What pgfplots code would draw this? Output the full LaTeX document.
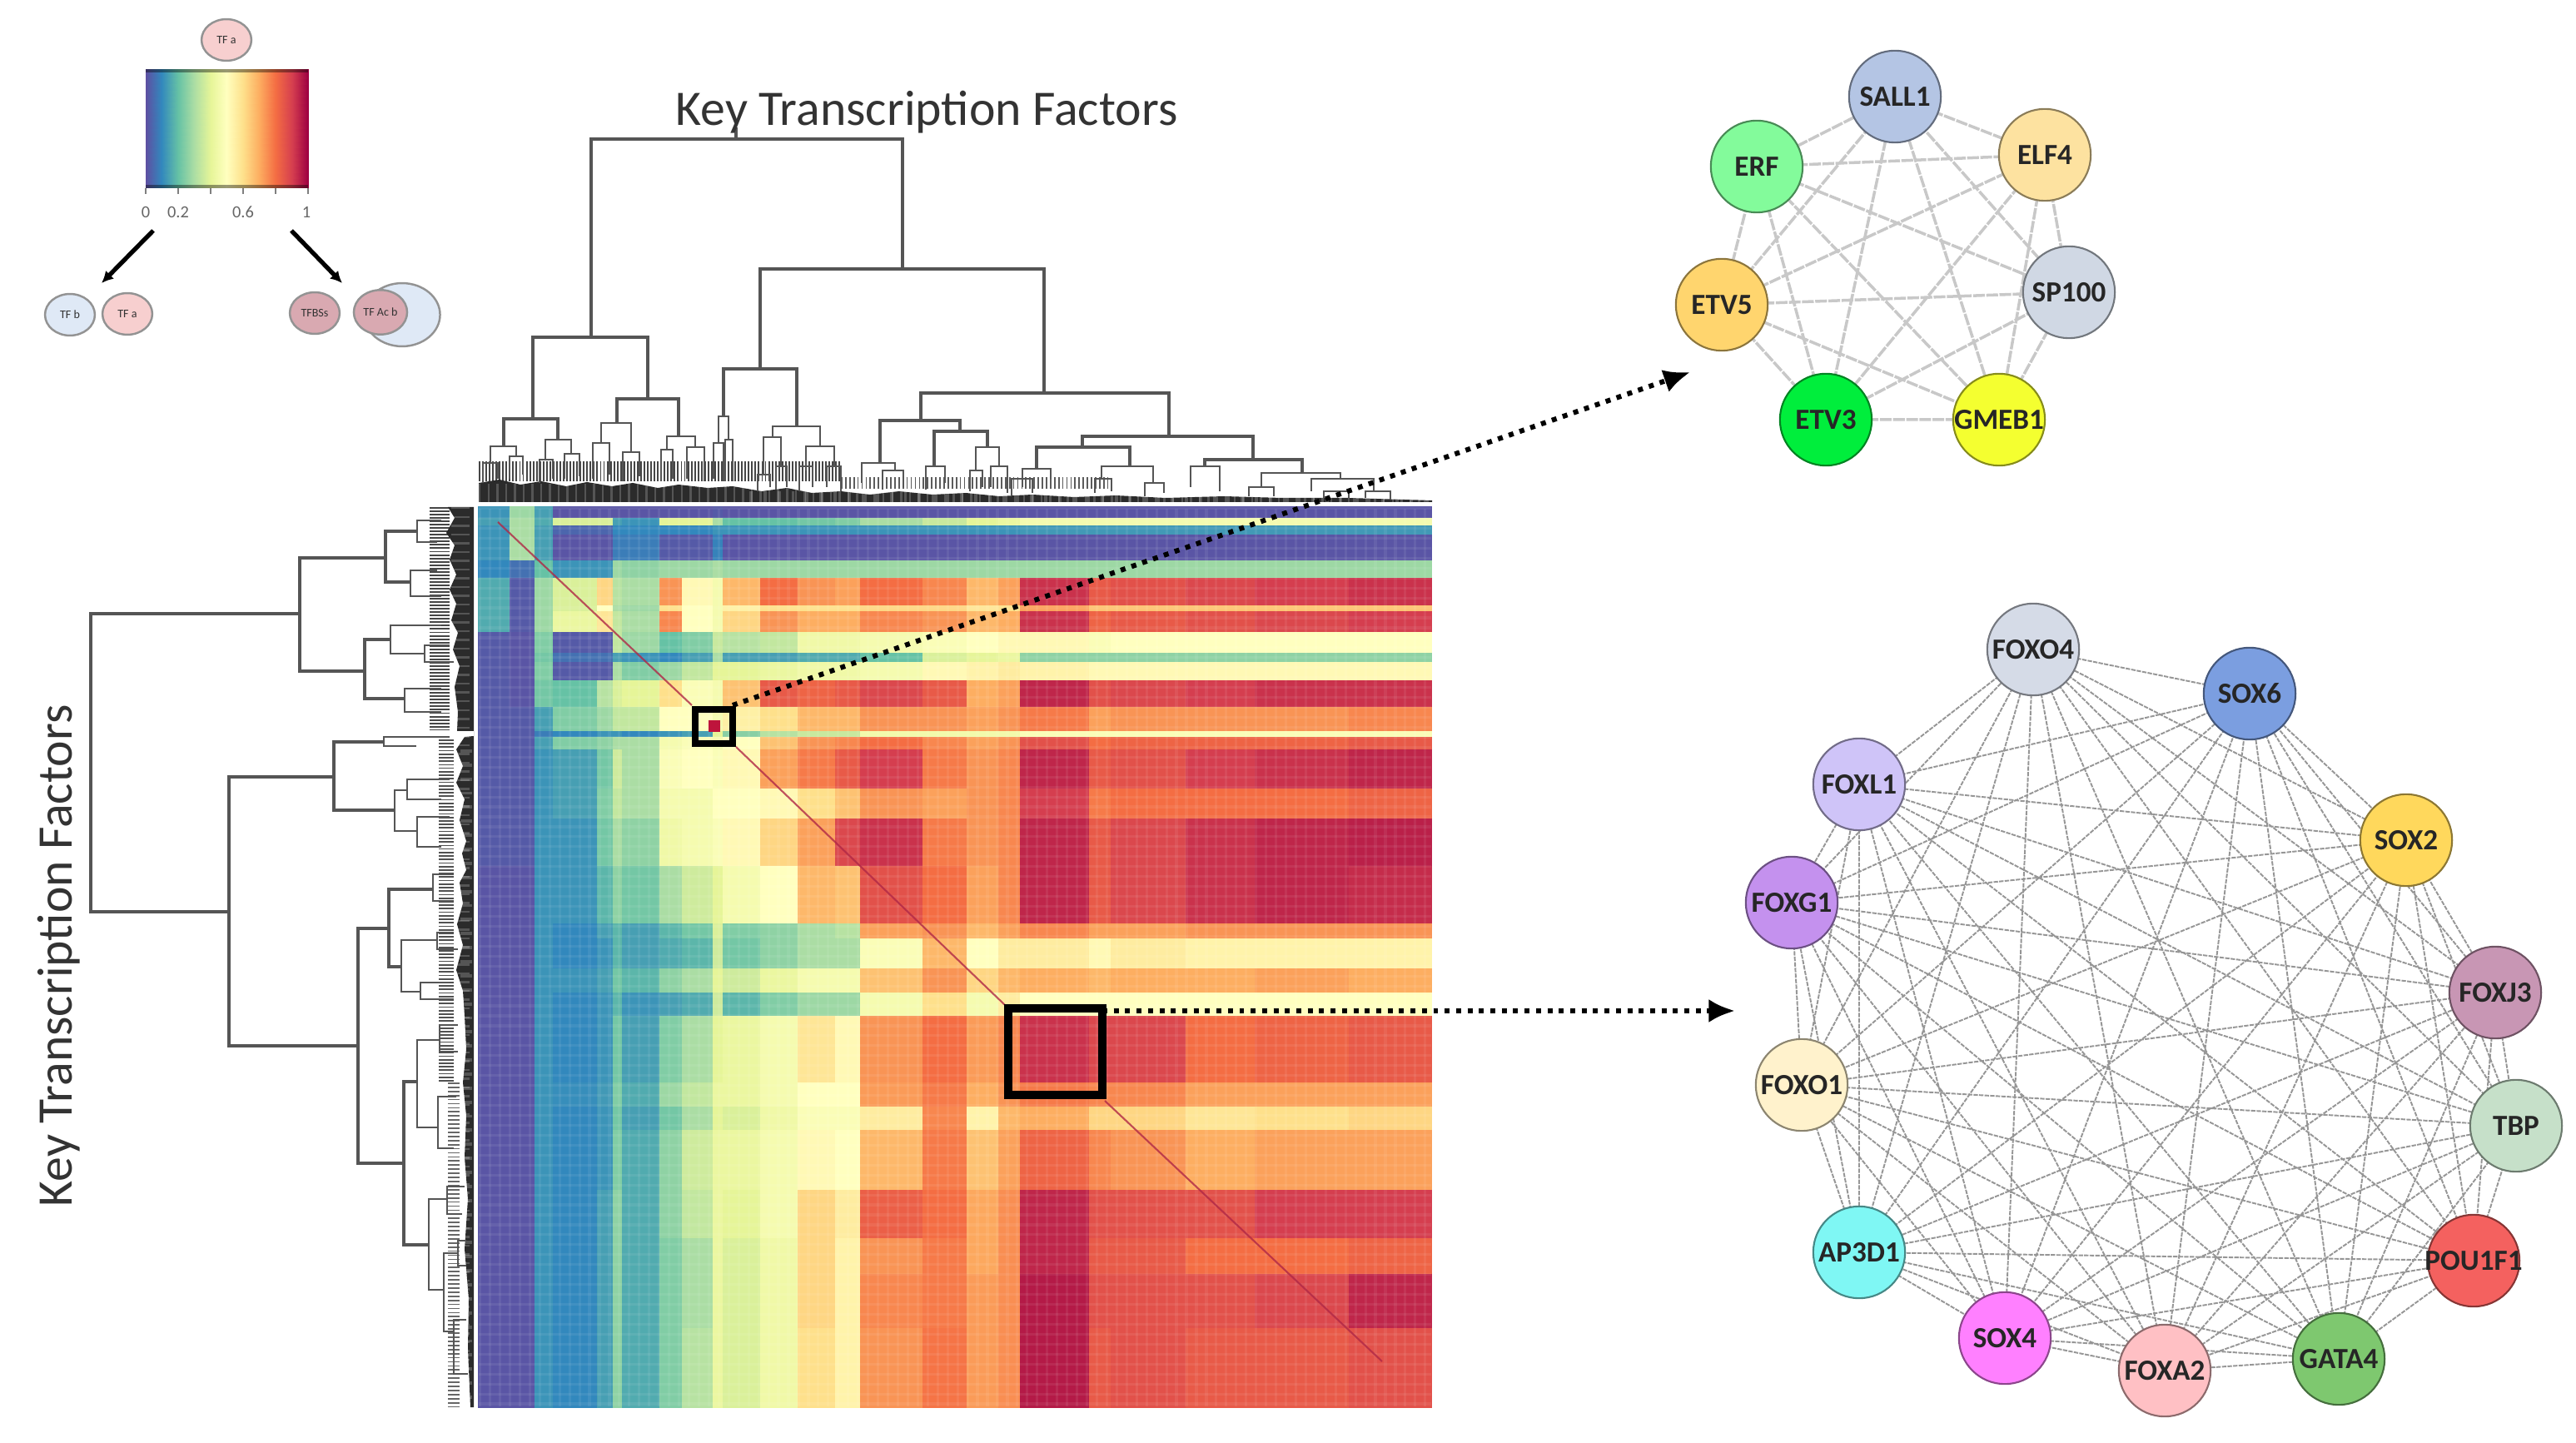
\documentclass[border=0pt]{standalone}
\usepackage{pgfplots}
\pgfplotsset{compat=1.18}
\usepackage{fontspec}
\setmainfont{Carlito}
\usetikzlibrary{arrows.meta}

% heatmap cell edges, in picture pixels (25 columns, 32 rows)
\newcommand\xcell{\ifcase\numexpr\coordindex-25*((\coordindex-12)/25)\relax
 575\or 613\or 643\or 665\or 718\or 737\or 748\or 793\or 820\or 857\or 869\or 914\or 959\or 1004\or 1034\or 1109\or 1162\or 1200\or 1226\or 1309\or 1335\or 1425\or 1508\or 1621\or 1719\fi}
\newcommand\ycell{\ifcase\numexpr(\coordindex-12)/25\relax
 609\or 623\or 632\or 643\or 674\or 695\or 728\or 735\or 760\or 785\or 796\or 818\or 850\or 879\or 886\or 901\or 948\or 984\or 1041\or 1110\or 1128\or 1164\or 1193\or 1221\or 1301\or 1330\or 1358\or 1430\or 1488\or 1531\or 1596\or 1690\fi}

\definecolor{dend}{HTML}{555555}
\definecolor{nSALL}{HTML}{B4C5E4}
\definecolor{nELF}{HTML}{FDE2A0}
\definecolor{nERF}{HTML}{83FB9B}
\definecolor{nSP}{HTML}{D0D8E4}
\definecolor{nETVf}{HTML}{FFD56E}
\definecolor{nETVt}{HTML}{00EE3C}
\definecolor{nGMEB}{HTML}{F4FF30}
\definecolor{nFOf}{HTML}{D5DBE7}
\definecolor{nSOXs}{HTML}{7B9EE0}
\definecolor{nFOL}{HTML}{CFC4F8}
\definecolor{nSOXt}{HTML}{FFD85C}
\definecolor{nFOG}{HTML}{C491EE}
\definecolor{nFOJ}{HTML}{C896B4}
\definecolor{nFOo}{HTML}{FFF2CC}
\definecolor{nTBP}{HTML}{C6E0C9}
\definecolor{nAP}{HTML}{7FF7F4}
\definecolor{nPOU}{HTML}{F4615F}
\definecolor{nSOXf}{HTML}{FF80FF}
\definecolor{nFOA}{HTML}{FFC0C4}
\definecolor{nGATA}{HTML}{7EC86F}
\definecolor{kPink}{HTML}{F7CFCF}
\definecolor{kBlue}{HTML}{DFE9F6}
\definecolor{kRose}{HTML}{D9A9B1}

% x, y, label, colour
\newcommand\netnode[4]{\addplot[only marks, mark=*, mark size=15.7pt,
    mark options={fill=#4, draw=#4!55!black, line width=0.6pt},
    nodes near coords={#3},
    nodes near coords style={anchor=center, inner sep=0pt, font=\fontsize{10}{10}\selectfont\bfseries, text=black!85}]
    coordinates {(#1,#2)};}
% x, y, radius, colour, label
\newcommand\keydot[5]{\addplot[only marks, mark=*, mark size=#3,
    mark options={xscale=1.2, fill=#4, draw=gray!85, line width=0.7pt},
    nodes near coords={#5},
    nodes near coords style={anchor=center, inner sep=0pt, font=\fontsize{4}{4}\selectfont, text=black!80}]
    coordinates {(#1,#2)};}

\begin{document}
\begin{tikzpicture}
\useasboundingbox (0,0) rectangle (30.94,17.33);
\begin{axis}[
    at={(0,0)}, anchor=south west,
    scale only axis, width=30.94cm, height=17.33cm,
    xmin=0, xmax=3094, ymin=0, ymax=1733,
    y dir=reverse, hide axis, enlargelimits=false,
    unbounded coords=jump,
    colormap={spectralr}{rgb255=(94,79,162) rgb255=(50,136,189) rgb255=(102,194,165) rgb255=(171,221,164) rgb255=(230,245,152) rgb255=(255,255,191) rgb255=(254,224,139) rgb255=(253,174,97) rgb255=(244,109,67) rgb255=(213,62,79) rgb255=(158,1,66)},
    point meta min=0, point meta max=100,
]
% heatmap, values in percent
\addplot[surf, shader=flat corner, mesh/cols=25, point meta=explicit]
 table[header=false, row sep=\\, x expr=\xcell, y expr=\ycell, meta index=0] {
12\\28\\14\\1\\1\\1\\1\\1\\1\\2\\1\\1\\1\\1\\1\\1\\1\\1\\1\\1\\1\\1\\1\\1\\1\\
14\\30\\16\\38\\38\\14\\12\\40\\40\\30\\20\\20\\22\\24\\30\\35\\40\\42\\46\\46\\46\\46\\46\\46\\46\\
12\\30\\14\\4\\4\\10\\10\\10\\10\\12\\12\\12\\12\\12\\12\\12\\12\\12\\13\\13\\13\\13\\13\\13\\13\\
12\\30\\14\\1\\1\\8\\8\\2\\2\\9\\1\\1\\1\\1\\1\\1\\1\\1\\1\\1\\1\\1\\1\\1\\1\\
10\\6\\20\\12\\12\\28\\26\\28\\28\\30\\28\\28\\28\\28\\28\\28\\28\\28\\28\\28\\28\\28\\28\\28\\28\\
16\\2\\28\\38\\62\\32\\30\\74\\52\\46\\68\\80\\74\\72\\80\\76\\68\\72\\92\\84\\86\\88\\90\\92\\92\\
16\\2\\28\\38\\50\\30\\28\\60\\50\\46\\55\\60\\60\\60\\62\\62\\58\\60\\72\\66\\66\\66\\66\\66\\66\\
16\\2\\28\\42\\58\\34\\30\\76\\50\\46\\62\\74\\70\\70\\76\\74\\68\\70\\92\\82\\84\\86\\88\\90\\90\\
2\\1\\24\\2\\2\\34\\28\\20\\24\\35\\32\\34\\44\\44\\46\\48\\50\\52\\52\\48\\50\\50\\50\\50\\50\\
2\\1\\22\\6\\6\\14\\12\\10\\14\\30\\14\\14\\16\\16\\20\\38\\40\\42\\26\\26\\26\\26\\26\\26\\26\\
2\\1\\24\\2\\2\\30\\24\\28\\34\\40\\40\\42\\44\\44\\46\\52\\54\\56\\54\\52\\52\\52\\52\\52\\52\\
2\\1\\22\\20\\32\\38\\40\\60\\48\\46\\66\\84\\82\\84\\88\\84\\70\\72\\94\\86\\88\\90\\92\\92\\92\\
2\\2\\14\\24\\28\\34\\34\\50\\50\\46\\55\\60\\68\\68\\74\\74\\72\\74\\78\\72\\74\\74\\74\\76\\76\\
2\\2\\8\\10\\12\\12\\10\\12\\14\\40\\25\\32\\35\\35\\45\\45\\45\\45\\48\\48\\48\\48\\48\\48\\48\\
2\\2\\14\\24\\26\\30\\30\\46\\48\\46\\50\\66\\74\\76\\80\\76\\72\\74\\86\\80\\82\\82\\82\\84\\84\\
2\\2\\12\\14\\22\\36\\30\\48\\50\\48\\52\\72\\78\\84\\90\\78\\74\\76\\94\\84\\86\\90\\92\\94\\94\\
2\\2\\12\\14\\24\\34\\30\\46\\46\\50\\50\\52\\60\\66\\74\\72\\74\\76\\90\\78\\80\\80\\80\\82\\82\\
2\\2\\12\\12\\22\\30\\26\\44\\46\\48\\52\\62\\72\\88\\92\\78\\74\\76\\94\\84\\88\\92\\94\\95\\95\\
1\\1\\12\\12\\18\\26\\22\\30\\36\\40\\46\\50\\68\\66\\86\\80\\72\\76\\94\\84\\88\\92\\94\\93\\93\\
1\\1\\12\\10\\14\\18\\14\\18\\22\\38\\24\\26\\30\\32\\72\\74\\68\\72\\76\\72\\72\\74\\74\\74\\74\\
1\\1\\12\\10\\12\\18\\14\\16\\18\\36\\22\\26\\30\\30\\48\\68\\50\\56\\56\\52\\56\\54\\54\\54\\54\\
1\\1\\12\\12\\14\\22\\18\\26\\30\\40\\36\\42\\46\\46\\66\\74\\62\\68\\70\\68\\70\\70\\72\\70\\70\\
1\\1\\12\\10\\12\\18\\12\\14\\16\\36\\18\\24\\28\\28\\46\\60\\46\\56\\50\\50\\50\\50\\50\\50\\50\\
1\\1\\12\\10\\12\\22\\14\\24\\30\\40\\42\\46\\58\\52\\74\\80\\73\\76\\92\\88\\88\\80\\82\\84\\84\\
1\\1\\12\\11\\13\\24\\16\\28\\34\\42\\42\\46\\50\\50\\73\\78\\70\\74\\78\\76\\76\\72\\72\\72\\72\\
1\\1\\12\\10\\12\\22\\14\\22\\30\\40\\38\\44\\48\\48\\56\\76\\54\\68\\70\\62\\62\\58\\60\\62\\62\\
1\\1\\12\\10\\12\\24\\16\\26\\36\\42\\42\\46\\52\\50\\68\\78\\66\\72\\82\\76\\74\\70\\72\\72\\72\\
1\\1\\12\\10\\14\\26\\16\\26\\34\\42\\40\\46\\62\\56\\83\\80\\71\\75\\94\\86\\86\\86\\90\\90\\90\\
1\\1\\12\\10\\14\\26\\16\\24\\30\\42\\38\\44\\62\\54\\74\\78\\71\\75\\94\\84\\84\\80\\80\\82\\82\\
1\\1\\12\\10\\14\\26\\16\\24\\30\\42\\38\\44\\62\\54\\76\\78\\73\\75\\96\\86\\86\\86\\88\\94\\94\\
1\\1\\12\\10\\14\\26\\16\\24\\32\\42\\38\\44\\60\\54\\74\\79\\73\\75\\96\\84\\86\\84\\84\\86\\86\\
1\\1\\12\\10\\14\\26\\16\\24\\32\\42\\38\\44\\60\\54\\74\\79\\73\\75\\96\\84\\86\\84\\84\\86\\86\\
};
% faint cell texture over the heatmap
\addplot[white, opacity=0.07, line width=307pt, dash pattern=on 0.9pt off 2.5pt] coordinates {(575,1150)(1719,1150)};
\addplot[white, opacity=0.07, line width=325.5pt, dash pattern=on 0.9pt off 2.5pt] coordinates {(1147,609)(1147,1690)};
% diagonal
\addplot[line width=0.6pt, opacity=0.8, color={rgb,255:red,176;green,40;blue,70}] coordinates {(598,627)(831,847)(nan,nan)(884,897)(1207,1207)(nan,nan)(1327,1322)(1660,1635)};
\addplot[only marks, mark=square*, mark size=1.7pt, color={rgb,255:red,190;green,20;blue,60}] coordinates {(858,872)};
% zoom boxes
\addplot[black, line width=2.3pt] coordinates {(835,852)(880,852)(880,893)(835,893)} --cycle;
\addplot[black, line width=2.9pt] coordinates {(1211,1211)(1324,1211)(1324,1315)(1211,1315)} --cycle;

% top dendrogram: dense lower part, then the branches
\addplot[fill={rgb,255:red,43;green,43;blue,43}, draw=none] coordinates {(575,603)(575,580)(600,576)(625,582)(650,578)(680,584)(705,579)(735,584)(760,580)(790,586)(815,582)(850,586)(880,584)(915,590)(945,586)(975,592)(1010,590)(1045,594)(1080,590)(1120,594)(1160,592)(1200,596)(1240,594)(1290,597)(1340,595)(1400,598)(1470,596)(1540,598)(1620,598)(1720,601)(1720,603)} --cycle;
\addplot[white, opacity=0.2, line width=6pt, dash pattern=on 0.7pt off 2.3pt] coordinates {(575,592)(1720,592)};
\addplot[white, opacity=0.2, line width=4pt, dash pattern=on 1.1pt off 3.7pt] coordinates {(900,597)(1720,597)};
\addplot[black!85, opacity=0.85, line width=7pt, dash pattern=on 0.55pt off 0.6pt] coordinates {(575,566)(1010,566)};
\addplot[black!85, opacity=0.75, line width=4pt, dash pattern=on 0.5pt off 0.9pt] coordinates {(1010,580)(1330,580)};
\addplot[dend, line width=1.1pt] coordinates {
(884,153)(884,167)(nan,nan)
(710,405)(710,167)(1084,167)(1084,323)(nan,nan)
(640,503)(640,405)(778,405)(778,479)(nan,nan)
(913,443)(913,323)(1254,323)(1254,472)(nan,nan)
(605,536)(605,503)(670,503)(670,528)(nan,nan)
(741,508)(741,479)(815,479)(815,524)(nan,nan)
(869,500)(869,443)(957,443)(957,512)(nan,nan)
(1106,505)(1106,472)(1404,472)(1404,524)(nan,nan)
(1057,556)(1057,505)(1153,505)(1153,518)(nan,nan)
(1300,537)(1300,524)(1505,524)(1505,552)(nan,nan)
(1122,560)(1122,518)(1186,518)(1186,537)(nan,nan)
(1245,563)(1245,537)(1357,537)(1357,560)(nan,nan)
(1447,560)(1447,552)(1564,552)(1564,568)
};
\addplot[dend, line width=0.8pt] coordinates {
(589,556)(589,536)(620,536)(620,548)(nan,nan)
(655,552)(655,528)(686,528)(686,545)(nan,nan)
(722,532)(722,508)(758,508)(758,543)(nan,nan)
(801,540)(801,524)(835,524)(835,537)(nan,nan)
(863,532)(863,500)(875,500)(875,528)(nan,nan)
(928,525)(928,512)(985,512)(985,536)(nan,nan)
(580,580)(580,556)(598,556)(598,575)(nan,nan)
(612,575)(612,548)(628,548)(628,570)(nan,nan)
(648,580)(648,552)(664,552)(664,575)(nan,nan)
(678,575)(678,545)(696,545)(696,572)(nan,nan)
(712,575)(712,532)(732,532)(732,570)(nan,nan)
(748,578)(748,543)(768,543)(768,572)(nan,nan)
(794,578)(794,540)(808,540)(808,575)(nan,nan)
(825,575)(825,537)(846,537)(846,578)(nan,nan)
(857,575)(857,532)(869,532)(869,578)(nan,nan)
(871,578)(871,528)(880,528)(880,578)(nan,nan)
(917,570)(917,525)(938,525)(938,560)(nan,nan)
(968,565)(968,536)(1002,536)(1002,560)(nan,nan)
(1035,580)(1035,556)(1075,556)(1075,565)(nan,nan)
(1112,588)(1112,560)(1135,560)(1135,580)(nan,nan)
(1172,565)(1172,537)(1200,537)(1200,560)(nan,nan)
(1228,585)(1228,563)(1262,563)(1262,575)(nan,nan)
(1323,575)(1323,560)(1385,560)(1385,580)(nan,nan)
(1430,585)(1430,560)(1465,560)(1465,590)(nan,nan)
(1515,585)(1515,568)(1610,568)(1610,575)(nan,nan)
(1575,590)(1575,575)(1650,575)(1650,590)(nan,nan)
(1060,588)(1060,565)(1085,565)(1085,585)(nan,nan)
(960,590)(960,560)(976,560)(976,585)(nan,nan)
(993,585)(993,560)(1010,560)(1010,590)(nan,nan)
(910,590)(910,570)(925,570)(925,585)(nan,nan)
(932,588)(932,560)(945,560)(945,585)(nan,nan)
(1165,590)(1165,565)(1180,565)(1180,585)(nan,nan)
(1190,585)(1190,560)(1210,560)(1210,592)(nan,nan)
(1215,595)(1215,575)(1240,575)(1240,592)(nan,nan)
(1315,592)(1315,575)(1335,575)(1335,590)(nan,nan)
(1375,596)(1375,580)(1398,580)(1398,592)(nan,nan)
(1500,596)(1500,585)(1530,585)(1530,596)(nan,nan)
(1590,598)(1590,590)(1620,590)(1620,598)(nan,nan)
(1640,598)(1640,590)(1670,590)(1670,600)
};

% left dendrogram
\addplot[fill={rgb,255:red,43;green,43;blue,43}, draw=none] coordinates {(569,609)(538,609)(546,622)(536,640)(546,655)(540,672)(548,690)(540,708)(548,725)(542,745)(550,760)(544,780)(552,800)(546,825)(550,855)(549,878)(569,878)(569,884)(558,885)(548,900)(556,920)(548,940)(558,960)(552,985)(560,1010)(555,1025)(560,1045)(552,1060)(556,1085)(549,1110)(556,1135)(548,1165)(556,1190)(558,1220)(560,1260)(556,1300)(560,1340)(558,1390)(562,1440)(558,1500)(563,1560)(562,1620)(565,1690)(569,1690)} --cycle;
\addplot[white, opacity=0.2, line width=6pt, dash pattern=on 0.7pt off 2.3pt] coordinates {(553,609)(553,1690)};
\addplot[white, opacity=0.2, line width=4pt, dash pattern=on 1.1pt off 3.7pt] coordinates {(560,900)(560,1690)};
\addplot[black!85, opacity=0.85, line width=7pt, dash pattern=on 0.55pt off 0.6pt] coordinates {(528,609)(528,876)};
\addplot[black!85, opacity=0.8, line width=5pt, dash pattern=on 0.5pt off 0.7pt] coordinates {(536,888)(536,1300)};
\addplot[black!85, opacity=0.7, line width=4pt, dash pattern=on 0.5pt off 0.9pt] coordinates {(545,1300)(545,1690)};
\addplot[dend, line width=1.1pt] coordinates {
(360,737)(109,737)(109,1095)(275,1095)(nan,nan)
(463,670)(360,670)(360,806)(438,806)(nan,nan)
(401,933)(275,933)(275,1256)(430,1256)(nan,nan)
(501,638)(463,638)(463,699)(493,699)(nan,nan)
(469,768)(438,768)(438,839)(486,839)(nan,nan)
(461,891)(401,891)(401,973)(474,973)(nan,nan)
(467,1115)(430,1115)(430,1397)(485,1397)(nan,nan)
(520,1068)(467,1068)(467,1161)(482,1161)(nan,nan)
(501,1299)(485,1299)(485,1495)(515,1495)
};
\addplot[dend, line width=0.8pt] coordinates {
(530,625)(501,625)(501,651)(525,651)(nan,nan)
(525,685)(493,685)(493,716)(530,716)(nan,nan)
(530,751)(469,751)(469,785)(510,785)(nan,nan)
(530,827)(486,827)(486,855)(530,855)(nan,nan)
(540,885)(461,885)(461,896)(500,896)(nan,nan)
(489,949)(474,949)(474,998)(501,998)(nan,nan)
(545,1050)(520,1050)(520,1082)(545,1082)(nan,nan)
(525,1129)(482,1129)(482,1191)(505,1191)(nan,nan)
(528,1249)(501,1249)(501,1354)(526,1354)(nan,nan)
(537,1440)(515,1440)(515,1549)(533,1549)(nan,nan)
(540,936)(489,936)(489,960)(530,960)(nan,nan)
(540,981)(501,981)(501,1017)(530,1017)(nan,nan)
(550,1231)(528,1231)(528,1263)(550,1263)(nan,nan)
(548,1317)(526,1317)(526,1379)(545,1379)(nan,nan)
(558,1425)(537,1425)(537,1458)(555,1458)(nan,nan)
(550,1505)(533,1505)(533,1599)(545,1599)(nan,nan)
(540,775)(510,775)(510,795)(545,795)(nan,nan)
(545,1120)(525,1120)(525,1140)(550,1140)(nan,nan)
(540,1180)(505,1180)(505,1200)(545,1200)(nan,nan)
(560,1585)(545,1585)(545,1650)(562,1650)(nan,nan)
(560,1490)(550,1490)(550,1520)(560,1520)
};

% dotted pointers to the two networks
\addplot[black, line width=1.7pt, dash pattern=on 1.7pt off 2.2pt, -{Latex[length=9pt,width=8pt]}] coordinates {(880,847)(2030,447)};
\addplot[black, line width=1.7pt, dash pattern=on 1.7pt off 2.2pt, -{Latex[length=9pt,width=8pt]}] coordinates {(1324,1214)(2084,1214)};

% network edges: both graphs are close to complete, written as closed walks
\addplot[color={rgb,255:red,200;green,200;blue,200}, line width=1pt, dash pattern=on 4pt off 0.5pt, line join=round] coordinates {
(2276,116)(2456,186)(2485,351)(2401,504)(2193,504)(2068,366)(2110,200)(2276,116)
(2485,351)(2193,504)(2110,200)(2456,186)(2401,504)(2068,366)(2276,116)
(2401,504)(2110,200)(2485,351)(2068,366)(2456,186)(2193,504)(2276,116)
};
\addplot[color={rgb,255:red,150;green,150;blue,150}, line width=0.55pt, dash pattern=on 1.5pt off 0.4pt, line join=round] coordinates {
(2442,780)(2702,833)(2890,1009)(2997,1192)(3022,1352)(2971,1514)(2809,1632)(2600,1646)(2408,1607)(2233,1504)(2164,1303)(2152,1084)(2233,942)(2442,780)
(2890,1009)(3022,1352)(2809,1632)(2408,1607)(2164,1303)(2233,942)(2702,833)(2997,1192)(2971,1514)(2600,1646)(2233,1504)(2152,1084)(2442,780)
(2997,1192)(2809,1632)(2233,1504)(2233,942)(2890,1009)(2971,1514)(2408,1607)(2152,1084)(2702,833)(3022,1352)(2600,1646)(2164,1303)(2442,780)
(3022,1352)(2408,1607)(2233,942)(2997,1192)(2600,1646)(2152,1084)(2890,1009)(2809,1632)(2164,1303)(2702,833)(2971,1514)(2233,1504)(2442,780)
(2971,1514)(2164,1303)(2890,1009)(2600,1646)(2233,942)(3022,1352)(2233,1504)(2702,833)(2809,1632)(2152,1084)(2997,1192)(2408,1607)(2442,780)
(2809,1632)(2233,942)(2971,1514)(2152,1084)(3022,1352)(2164,1303)(2997,1192)(2233,1504)(2890,1009)(2408,1607)(2702,833)(2600,1646)(2442,780)
};
% network nodes
\netnode{2276}{116}{SALL1}{nSALL}
\netnode{2456}{186}{ELF4}{nELF}
\netnode{2110}{200}{ERF}{nERF}
\netnode{2485}{351}{SP100}{nSP}
\netnode{2068}{366}{ETV5}{nETVf}
\netnode{2193}{504}{ETV3}{nETVt}
\netnode{2401}{504}{GMEB1}{nGMEB}
\netnode{2442}{780}{FOXO4}{nFOf}
\netnode{2702}{833}{SOX6}{nSOXs}
\netnode{2233}{942}{FOXL1}{nFOL}
\netnode{2890}{1009}{SOX2}{nSOXt}
\netnode{2152}{1084}{FOXG1}{nFOG}
\netnode{2997}{1192}{FOXJ3}{nFOJ}
\netnode{2164}{1303}{FOXO1}{nFOo}
\netnode{3022}{1352}{TBP}{nTBP}
\netnode{2233}{1504}{AP3D1}{nAP}
\netnode{2971}{1514}{POU1F1}{nPOU}
\netnode{2408}{1607}{SOX4}{nSOXf}
\netnode{2600}{1646}{FOXA2}{nFOA}
\netnode{2809}{1632}{GATA4}{nGATA}

% colour key
\addplot[surf, shader=interp, mesh/cols=11, point meta=explicit] coordinates {
(175,83) [0] (194.5,83) [10] (214,83) [20] (233.5,83) [30] (253,83) [40] (272.5,83) [50] (292,83) [60] (311.5,83) [70] (331,83) [80] (350.5,83) [90] (370,83) [100]
(175,226) [0] (194.5,226) [10] (214,226) [20] (233.5,226) [30] (253,226) [40] (272.5,226) [50] (292,226) [60] (311.5,226) [70] (331,226) [80] (350.5,226) [90] (370,226) [100]
};
\addplot[black, opacity=0.4, line width=1.3pt] coordinates {(175,85)(370,85)(nan,nan)(370,224)(175,224)};
\addplot[black, opacity=0.5, line width=0.5pt] coordinates {(175,226)(175,233)(nan,nan)(214,226)(214,233)(nan,nan)(253,226)(253,233)(nan,nan)(292,226)(292,233)(nan,nan)(331,226)(331,233)(nan,nan)(370,226)(370,233)};
\addplot[black, line width=1.5pt, -{Latex[length=4pt,width=4pt]}] coordinates {(184,277)(122,340)};
\addplot[black, line width=1.5pt, -{Latex[length=4pt,width=4pt]}] coordinates {(350,277)(411,340)};

% key circles
\keydot{272}{48}{7.1pt}{kPink}{TF a}
\keydot{84}{378}{7.1pt}{kBlue}{TF b}
\keydot{153}{377}{7.1pt}{kPink}{TF a}
\keydot{378}{376}{7.1pt}{kRose}{TFBSs}
\keydot{483}{378}{10.8pt}{kBlue}{}
\keydot{457}{375}{7.6pt}{kRose}{TF Ac b}

% text
\node[font=\fontsize{17}{18}\selectfont, text=black!80] at (axis cs:1113,135) {Key Transcription Factors};
\node[font=\fontsize{17}{18}\selectfont, text=black!80, rotate=90] at (axis cs:71,1148) {Key Transcription Factors};
\node[font=\fontsize{5.8}{6}\selectfont, text=black!60] at (axis cs:175,255) {0};
\node[font=\fontsize{5.8}{6}\selectfont, text=black!60] at (axis cs:214,255) {0.2};
\node[font=\fontsize{5.8}{6}\selectfont, text=black!60] at (axis cs:292,255) {0.6};
\node[font=\fontsize{5.8}{6}\selectfont, text=black!60] at (axis cs:368,255) {1};
\end{axis}
\end{tikzpicture}
\end{document}
